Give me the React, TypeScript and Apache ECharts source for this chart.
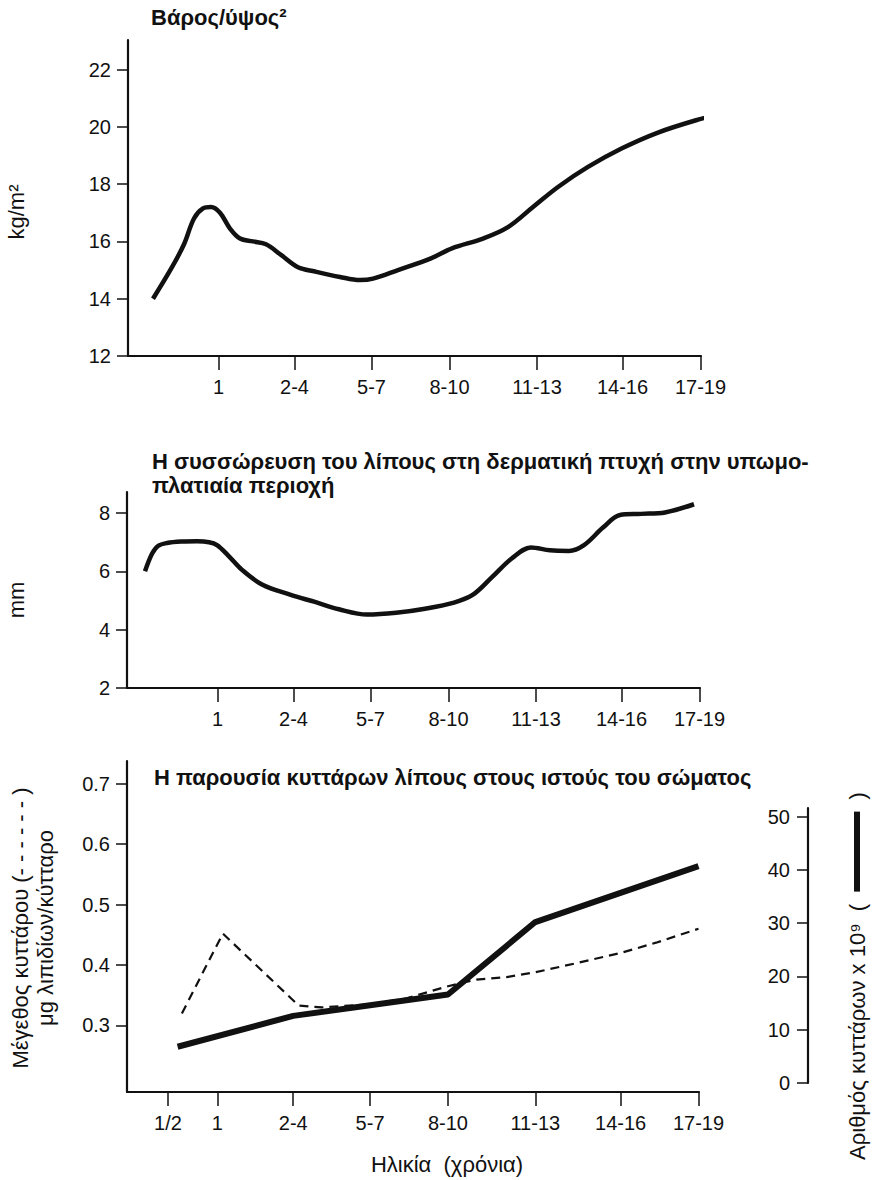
import React, { useEffect, useRef } from "react";
import * as echarts from "echarts";

// x positions of age-group ticks (abstract position scale, 0..57.3)
const ageLabels = ["1/2", "1", "2-4", "5-7", "8-10", "11-13", "14-16", "17-19"];
const agePos = [4.1, 9.05, 16.65, 24.35, 32.15, 40.9, 49.45, 57.25];

// Panel 1: weight/height^2 (kg/m2)
const bmiX = [2.5, 4.4, 5.6, 6.6, 7.5, 8.3, 9.2, 10.2, 11.2, 12.5, 13.8, 15.3, 17.0, 18.7, 21.2, 23.2, 24.5, 27.0, 30.3, 32.4, 35.5, 38.0, 40.5, 43.0, 46.0, 49.4, 53.0, 57.0, 59.8];
const bmiY = [14.0, 15.1, 15.9, 16.8, 17.15, 17.2, 17.0, 16.45, 16.1, 16.0, 15.9, 15.53, 15.1, 14.95, 14.76, 14.65, 14.7, 15.0, 15.41, 15.76, 16.1, 16.5, 17.2, 17.9, 18.6, 19.25, 19.8, 20.25, 20.5];

// Panel 2: subscapular skinfold (mm)
const skinX = [1.8, 2.5, 3.1, 4.0, 5.5, 7.0, 8.2, 9.0, 10.1, 11.5, 13.5, 16.3, 18.8, 21.2, 24.0, 26.9, 29.8, 32.7, 34.6, 36.5, 38.5, 40.4, 42.3, 44.2, 45.7, 47.6, 49.3, 51.4, 53.8, 56.7];
const skinY = [6.0, 6.6, 6.87, 6.97, 7.02, 7.03, 7.0, 6.9, 6.55, 6.05, 5.55, 5.2, 4.95, 4.7, 4.52, 4.58, 4.72, 4.93, 5.2, 5.8, 6.45, 6.82, 6.72, 6.7, 6.9, 7.5, 7.93, 7.97, 8.02, 8.3];

// Panel 3: fat cell size (μg lipid / cell), dashed
const sizeX = [5.5, 9.6, 17.2, 19.5, 24.35, 28.0, 32.15, 35.0, 38.0, 40.9, 45.0, 49.45, 53.0, 57.25];
const sizeY = [0.32, 0.452, 0.333, 0.33, 0.335, 0.345, 0.365, 0.376, 0.38, 0.388, 0.403, 0.42, 0.437, 0.46];

// Panel 3: fat cell number (x 10^9), solid
const countX = [5.07, 16.65, 24.35, 32.15, 40.9, 57.25];
const countY = [6.8, 12.6, 14.6, 16.6, 30.2, 40.7];

const bmiTicks = [12, 14, 16, 18, 20, 22];
const skinTicks = [2, 4, 6, 8];
const sizeTicks = [0.3, 0.4, 0.5, 0.6, 0.7];
const countTicks = [0, 10, 20, 30, 40, 50];

const zip = (xs: number[], ys: number[]) => xs.map((x, i) => [x, ys[i]]);

const FONT = "'Liberation Sans', Arial, Helvetica, sans-serif";
const BLACK = "#111";

function xAxisFor(gridIndex: number, withHalf: boolean) {
  const vals = withHalf ? agePos : agePos.slice(1);
  return {
    type: "value",
    gridIndex,
    min: 0,
    max: 57.3,
    axisLine: { show: true, onZero: false, lineStyle: { color: BLACK, width: 2.2 } },
    axisTick: { show: true, length: 14, customValues: vals, lineStyle: { color: BLACK, width: 1.5 } },
    axisLabel: {
      show: true,
      customValues: vals,
      margin: 21,
      color: BLACK,
      fontSize: 20,
      fontFamily: FONT,
      formatter: (v: number) => {
        let best = 0;
        agePos.forEach((p, i) => {
          if (Math.abs(p - v) < Math.abs(agePos[best] - v)) best = i;
        });
        return ageLabels[best];
      },
    },
    splitLine: { show: false },
  };
}

function yAxisFor(gridIndex: number, min: number, max: number, ticks: number[], fmt?: (v: number) => string) {
  return {
    type: "value",
    gridIndex,
    min,
    max,
    axisLine: { show: true, onZero: false, lineStyle: { color: BLACK, width: 2.2 } },
    axisTick: { show: true, length: 11, customValues: ticks, lineStyle: { color: BLACK, width: 1.5 } },
    axisLabel: {
      show: true,
      customValues: ticks,
      margin: 17,
      color: BLACK,
      fontSize: 20,
      fontFamily: FONT,
      formatter: fmt || ((v: number) => String(v)),
    },
    splitLine: { show: false },
  };
}

export default function App() {
  const ref = useRef<HTMLDivElement>(null);
  useEffect(() => {
    if (!ref.current) return;
    const chart = echarts.init(ref.current, undefined, { renderer: "svg" });
    const titleStyle = { font: `bold 22px ${FONT}`, fill: BLACK };
    const nameFont = `22px ${FONT}`;
    chart.setOption({
      animation: false,
      backgroundColor: "#fff",
      grid: [
        { left: 128, top: 40, width: 573, height: 316 },
        { left: 127, top: 492, width: 573, height: 196 },
        { left: 127, top: 761, width: 572, height: 331 },
        { left: 127, top: 808, width: 572, height: 275 },
      ],
      xAxis: [
        xAxisFor(0, false),
        xAxisFor(1, false),
        xAxisFor(2, true),
        { type: "value", gridIndex: 3, min: 0, max: 57.3, show: false },
      ],
      yAxis: [
        yAxisFor(0, 12, 23.03, bmiTicks),
        yAxisFor(1, 2, 8.72, skinTicks),
        yAxisFor(2, 0.19, 0.7375, sizeTicks, (v: number) => v.toFixed(1)),
        {
          type: "value",
          gridIndex: 3,
          position: "right",
          offset: 109,
          min: 0,
          max: 51.6,
          axisLine: { show: true, onZero: false, lineStyle: { color: BLACK, width: 2.2 } },
          axisTick: { show: true, inside: true, length: 11, customValues: countTicks, lineStyle: { color: BLACK, width: 1.5 } },
          axisLabel: { show: true, inside: true, customValues: countTicks, margin: 18, color: BLACK, fontSize: 20, fontFamily: FONT },
          splitLine: { show: false },
        },
      ],
      series: [
        {
          type: "line", xAxisIndex: 0, yAxisIndex: 0, data: zip(bmiX, bmiY), smooth: 0.35,
          symbol: "none", clip: false, lineStyle: { color: BLACK, width: 4.5 },
        },
        {
          type: "line", xAxisIndex: 1, yAxisIndex: 1, data: zip(skinX, skinY), smooth: 0.35,
          symbol: "none", clip: false, lineStyle: { color: BLACK, width: 4.5 },
        },
        {
          type: "line", xAxisIndex: 2, yAxisIndex: 2, data: zip(sizeX, sizeY), smooth: false,
          symbol: "none", clip: false, lineStyle: { color: BLACK, width: 2.2, type: [9, 6] },
        },
        {
          type: "line", xAxisIndex: 3, yAxisIndex: 3, data: zip(countX, countY), smooth: false,
          symbol: "none", clip: false, lineStyle: { color: BLACK, width: 6 },
        },
      ],
      graphic: [
        { type: "text", x: 151, y: 17, style: { ...titleStyle, text: "Βάρος/ύψος²", verticalAlign: "middle" } },
        { type: "text", x: 152, y: 461, style: { ...titleStyle, text: "Η συσσώρευση του λίπους στη δερματική πτυχή στην υπωμο-", verticalAlign: "middle" } },
        { type: "text", x: 152, y: 485, style: { ...titleStyle, text: "πλατιαία περιοχή", verticalAlign: "middle" } },
        { type: "text", x: 154, y: 777, style: { ...titleStyle, text: "Η παρουσία κυττάρων λίπους στους ιστούς του σώματος", verticalAlign: "middle" } },
        { type: "text", x: 16, y: 212, rotation: Math.PI / 2, style: { text: "kg/m²", font: nameFont, fill: BLACK, align: "center", verticalAlign: "middle" } },
        { type: "text", x: 16, y: 600, rotation: Math.PI / 2, style: { text: "mm", font: nameFont, fill: BLACK, align: "center", verticalAlign: "middle" } },
        { type: "text", x: 20, y: 928, rotation: Math.PI / 2, style: { text: "Μέγεθος κυττάρου (- - - - - - )", font: nameFont, fill: BLACK, align: "center", verticalAlign: "middle" } },
        { type: "text", x: 45, y: 928, rotation: Math.PI / 2, style: { text: "μg λιπιδίων/κύτταρο", font: nameFont, fill: BLACK, align: "center", verticalAlign: "middle" } },
        {
          type: "text", x: 857, y: 976, rotation: Math.PI / 2,
          style: {
            text: "Αριθμός κυττάρων x 10⁹  (  {b| }  )",
            font: nameFont, fill: BLACK, align: "center", verticalAlign: "middle",
            rich: { b: { width: 80, height: 6, backgroundColor: BLACK } },
          },
        },
        { type: "text", x: 447, y: 1164, style: { text: "Ηλικία  (χρόνια)", font: nameFont, fill: BLACK, align: "center", verticalAlign: "middle" } },
      ],
    });
    return () => chart.dispose();
  }, []);
  return <div ref={ref} style={{ position: "absolute", left: 0, top: 0, width: 872, height: 1180 }} />;
}
